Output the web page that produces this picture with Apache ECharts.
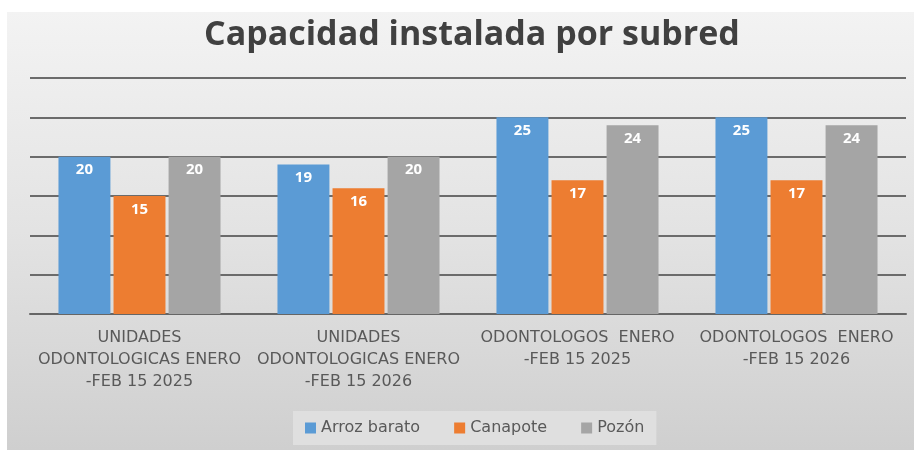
<!DOCTYPE html>
<html>
<head>
<meta charset="utf-8">
<script src="https://cdn.jsdelivr.net/npm/echarts@6/dist/echarts.min.js"></script>
<style>
    html, body { margin: 0; padding: 0; background: #fff; }
    #chart { width: 914px; height: 450px; }
</style>
</head>
<body>
<div id="chart"></div>
<script>
let categories = [
    'UNIDADES\nODONTOLOGICAS ENERO\n-FEB 15 2025',
    'UNIDADES\nODONTOLOGICAS ENERO\n-FEB 15 2026',
    'ODONTOLOGOS  ENERO\n-FEB 15 2025',
    'ODONTOLOGOS  ENERO\n-FEB 15 2026'
]
let arrozBarato = [20, 19, 25, 25]
let canapote = [15, 16, 17, 17]
let pozon = [20, 20, 24, 24]

let font = 'Open Sans'
let labelFont = 'DejaVu Sans'

function barSeries(name, data, color) {
    return {
        name: name,
        type: 'bar',
        data: data,
        barGap: '6%',
        barCategoryGap: '26%',
        itemStyle: {color: color},
        label: {
            show: true,
            position: 'insideTop',
            distance: 6,
            color: '#fff',
            fontFamily: font,
            fontWeight: 'bold',
            fontSize: 15
        }
    }
}

let chart = echarts.init(document.getElementById('chart'))
let option = {
    backgroundColor: '#fff',
    animation: false,
    graphic: [{
        type: 'rect',
        z: -10,
        shape: {x: 7, y: 12, width: 907, height: 438},
        style: {
            fill: new echarts.graphic.LinearGradient(0, 0, 0, 1, [
                {offset: 0, color: '#f3f3f3'},
                {offset: 0.5, color: '#e3e3e3'},
                {offset: 1, color: '#cfcfcf'}
            ])
        }
    }],
    title: {
        text: 'Capacidad instalada por subred',
        left: 199,
        top: 13,
        textStyle: {
            fontFamily: font,
            fontWeight: 'bold',
            fontSize: 34,
            color: '#404040'
        }
    },
    legend: {
        bottom: 5,
        left: 293,
        itemWidth: 11,
        itemHeight: 11,
        itemGap: 34,
        padding: [9, 12],
        backgroundColor: '#dfdfdf',
        icon: 'rect',
        textStyle: {fontFamily: labelFont, fontSize: 16, color: '#595959'},
        data: ['Arroz barato', 'Canapote', 'Pozón']
    },
    grid: {left: 30, right: 8, top: 78, bottom: 136},
    xAxis: {
        type: 'category',
        data: categories,
        axisLine: {lineStyle: {color: '#666', width: 2}},
        axisTick: {show: false},
        axisLabel: {
            interval: 0,
            margin: 13,
            lineHeight: 22,
            fontFamily: labelFont,
            fontSize: 16,
            color: '#595959'
        }
    },
    yAxis: {
        type: 'value',
        min: 0,
        max: 30,
        interval: 5,
        axisLabel: {show: false},
        axisLine: {show: false},
        splitLine: {lineStyle: {color: '#6b6b6b', width: 2}}
    },
    series: [
        barSeries('Arroz barato', arrozBarato, '#5b9bd5'),
        barSeries('Canapote', canapote, '#ed7d31'),
        barSeries('Pozón', pozon, '#a5a5a5')
    ]
}
chart.setOption(option)
</script>
</body>
</html>
